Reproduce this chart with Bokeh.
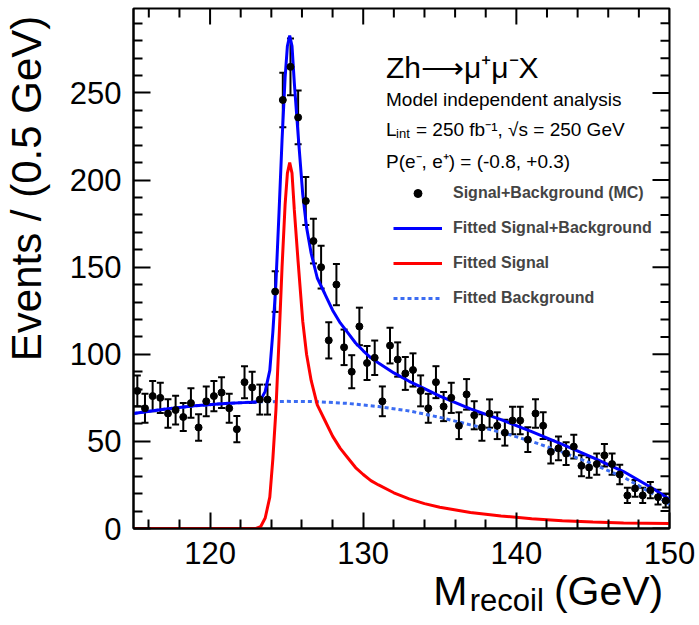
import math
from bokeh.plotting import figure
from bokeh.models import (ColumnDataSource, Whisker, TeeHead, LinearAxis, FixedTicker,
                          Range1d, Label, Legend, LegendItem)
from bokeh.embed import file_html
from bokeh.resources import INLINE

# ---------------- data ----------------
bin_low = 115.0
bin_width = 0.5
counts = [79, 69, 76, 75, 66, 68, 64, 72, 58, 73,
          76, 78, 69, 57, 84, 81, 74, 74, 136, 246,
          265, 236, 188, 165, 150, 108, 140, 104, 90, 116,
          95, 98, 73, 105, 97, 89, 91, 79, 69, 84,
          70, 75, 59, 77, 65, 58, 66, 59, 55, 62,
          62, 51, 66, 59, 44, 46, 43, 47, 36, 35,
          37, 42, 37, 31, 19, 23, 19, 22, 18, 16]

bkg_x = [115, 117, 119, 121, 123, 125, 127, 129, 131, 133, 135, 137, 139, 141, 143, 145, 147, 149, 150]
bkg_y = [66, 68.5, 70.4, 71.8, 72.6, 73.0, 72.8, 71.8, 70.0, 67.5, 63.8, 59.5, 55.3, 50.0, 43.8, 37.0, 29.5, 19.5, 13.8]

sig_x = [115, 123.0, 123.3, 123.6, 123.9, 124.1, 124.3, 124.5, 124.7, 124.9, 125.05, 125.2, 125.35,
         125.5, 125.75, 126.05, 126.3, 126.6, 127.0, 127.5, 128.0, 128.5, 129, 129.5, 130, 130.5,
         131, 132, 133, 134, 135, 137, 139, 141, 143, 145, 147, 150]
sig_y = [0, 0, 1, 6, 18, 40, 68, 108, 150, 186, 204, 210, 204,
         183, 153, 119, 100, 85, 71, 62, 53, 46, 40.5, 35, 31, 27.5,
         25, 20.5, 17, 14.3, 12.2, 9.2, 7.2, 5.6, 4.5, 3.7, 3.2, 2.8]

tot_x = [115, 117, 119, 121, 122.5, 123.0, 123.3, 123.6, 123.9, 124.1, 124.3, 124.5, 124.7, 124.9,
         125.05, 125.2, 125.35, 125.5, 125.75, 126.05, 126.3, 126.6, 127.0, 127.5, 128.0, 128.5,
         129, 129.5, 130, 130.5, 131, 132, 133, 134, 135, 137, 139, 141, 143, 145, 147, 149, 150]
tot_y = [66, 68.5, 70.4, 71.8, 72.4, 72.6, 73.7, 78.7, 90.8, 112.8, 140.9, 180.9, 223, 259,
         277, 283, 277, 256, 226, 192, 173, 158, 143.8, 134.6, 125.3, 118,
         112.3, 106.5, 102, 98, 95, 89.3, 84.5, 80.3, 76, 68.7, 62.5, 55.6, 48.3, 40.7, 32.7, 22.5, 16.6]

x_major = [120, 130, 140, 150]
x_minor = [116, 118, 122, 124, 126, 128, 132, 134, 136, 138, 142, 144, 146, 148]
y_major = [0, 50, 100, 150, 200, 250]
y_minor = [10, 20, 30, 40, 60, 70, 80, 90, 110, 120, 130, 140, 160, 170, 180, 190,
           210, 220, 230, 240, 260, 270, 280, 290]

# ---------------- layout ----------------
W, H = 699, 625
FL, FR, FT, FB = 132, 669, 8, 528
X0, X1, Y0, Y1 = 115.0, 150.0, 0.0, 298.5
FONT = "Liberation Sans"


def dx(px):
    return round(X0 + (px - FL) * (X1 - X0) / (FR - FL), 3)


def dy(py):
    return round(Y0 + (FB - py) * (Y1 - Y0) / (FB - FT), 3)


centers = [bin_low + bin_width * (i + 0.5) for i in range(len(counts))]
errs = [math.sqrt(c) for c in counts]
src = ColumnDataSource(dict(
    x=centers, y=counts,
    lower=[c - e for c, e in zip(counts, errs)],
    upper=[c + e for c, e in zip(counts, errs)],
))

p = figure(width=W, height=H, output_backend="svg", toolbar_location=None,
           x_range=Range1d(X0, X1), y_range=Range1d(Y0, Y1),
           x_axis_location=None, y_axis_location=None,
           min_border_left=FL, min_border_right=W - FR,
           min_border_top=FT, min_border_bottom=H - FB)
p.grid.visible = False
p.outline_line_color = "black"
p.outline_line_width = 2
p.background_fill_color = "white"
p.border_fill_color = "white"


def tick_axis(major, minor, major_len, minor_len, standoff):
    ax = LinearAxis(ticker=FixedTicker(ticks=major, minor_ticks=minor))
    ax.axis_line_width = 2
    ax.axis_line_color = "black"
    ax.major_tick_line_width = 2
    ax.minor_tick_line_width = 2
    ax.major_tick_in = major_len
    ax.major_tick_out = 0
    ax.minor_tick_in = minor_len
    ax.minor_tick_out = 0
    ax.major_label_text_font = FONT
    ax.major_label_text_font_size = "31px"
    ax.major_label_text_color = "black"
    ax.major_label_standoff = standoff
    return ax


def text_axis(ticks, labels, size, standoff, orientation="horizontal"):
    ax = LinearAxis(ticker=FixedTicker(ticks=ticks, minor_ticks=[]),
                    major_label_overrides=dict(zip(ticks, labels)))
    ax.axis_line_color = None
    ax.major_tick_line_color = None
    ax.minor_tick_line_color = None
    ax.major_tick_in = 0
    ax.major_tick_out = 0
    ax.minor_tick_in = 0
    ax.minor_tick_out = 0
    ax.major_label_text_font = FONT
    ax.major_label_text_font_size = size
    ax.major_label_text_color = "black"
    ax.major_label_standoff = standoff
    ax.major_label_orientation = orientation
    return ax


# real axes (left / bottom) with inward ticks
p.add_layout(tick_axis(y_major, y_minor, 17, 9, 12), "left")
p.add_layout(tick_axis(x_major, x_minor, 16, 9, 13), "below")

# axis titles, carried by label-only axes placed outside the tick axes
p.add_layout(text_axis([dy(188)], ["Events / (0.5 GeV)"], "42px", 16, "vertical"), "left")
p.add_layout(text_axis([dx(449.5), dx(608)], ["M", "(GeV)"], "41px", 1), "below")
p.add_layout(text_axis([dx(506)], ["recoil"], "31px", -34), "below")

# inward ticks on top and right edges
p.ray(x=[X1] * len(y_major), y=y_major, length=17, length_units="screen", angle=math.pi,
      line_color="black", line_width=2)
p.ray(x=[X1] * len(y_minor), y=y_minor, length=9, length_units="screen", angle=math.pi,
      line_color="black", line_width=2)
p.ray(x=x_major, y=[Y1] * len(x_major), length=16, length_units="screen", angle=-math.pi / 2,
      line_color="black", line_width=2)
p.ray(x=x_minor, y=[Y1] * len(x_minor), length=9, length_units="screen", angle=-math.pi / 2,
      line_color="black", line_width=2)

# curves
r_bkg = p.line(bkg_x, bkg_y, line_color="#3b6cf2", line_width=3, line_dash="4 3")
r_sig = p.line(sig_x, sig_y, line_color="#ff0000", line_width=3)
r_tot = p.line(tot_x, tot_y, line_color="#0000ff", line_width=3)

# data points with error bars
p.add_layout(Whisker(source=src, base="x", lower="lower", upper="upper",
                     line_color="black", line_width=2,
                     lower_head=TeeHead(size=7, line_width=2, line_color="black"),
                     upper_head=TeeHead(size=7, line_width=2, line_color="black")))
r_pts = p.scatter("x", "y", source=src, size=7, color="black")

legend = Legend(items=[
    LegendItem(label="Signal+Background (MC)", renderers=[r_pts]),
    LegendItem(label="Fitted Signal+Background", renderers=[r_tot]),
    LegendItem(label="Fitted Signal", renderers=[r_sig]),
    LegendItem(label="Fitted Background", renderers=[r_bkg]),
], location=(260, 220))
legend.label_text_font = FONT
legend.label_text_font_style = "bold"
legend.label_text_font_size = "16px"
legend.glyph_width = 49
legend.glyph_height = 20
legend.label_height = 20
legend.label_standoff = 11
legend.spacing = 15
legend.padding = 0
legend.margin = 0
legend.border_line_alpha = 0
legend.background_fill_alpha = 0
p.add_layout(legend)


def add_text(txt, px, py, size):
    p.add_layout(Label(x=dx(px), y=dy(py), text=txt, text_font=FONT,
                       text_font_size=size, text_color="black", text_align="left",
                       text_baseline="alphabetic"))


# header texts inside the frame
add_text("Zh\u27f6\u03bc\u207a\u03bc\u207bX", 385, 66.7, "30px")
add_text("Model independent analysis", 385, 99, "19px")
add_text("L", 385, 129, "19px")
add_text("int", 395, 133, "13px")
add_text("= 250 fb\u207b\u00b9, \u221as = 250 GeV", 415, 129, "19px")
add_text("P(e\u207b, e\u207a) = (-0.8, +0.3)", 385, 160.7, "19px")

open("out.html", "w").write(file_html(p, INLINE))
